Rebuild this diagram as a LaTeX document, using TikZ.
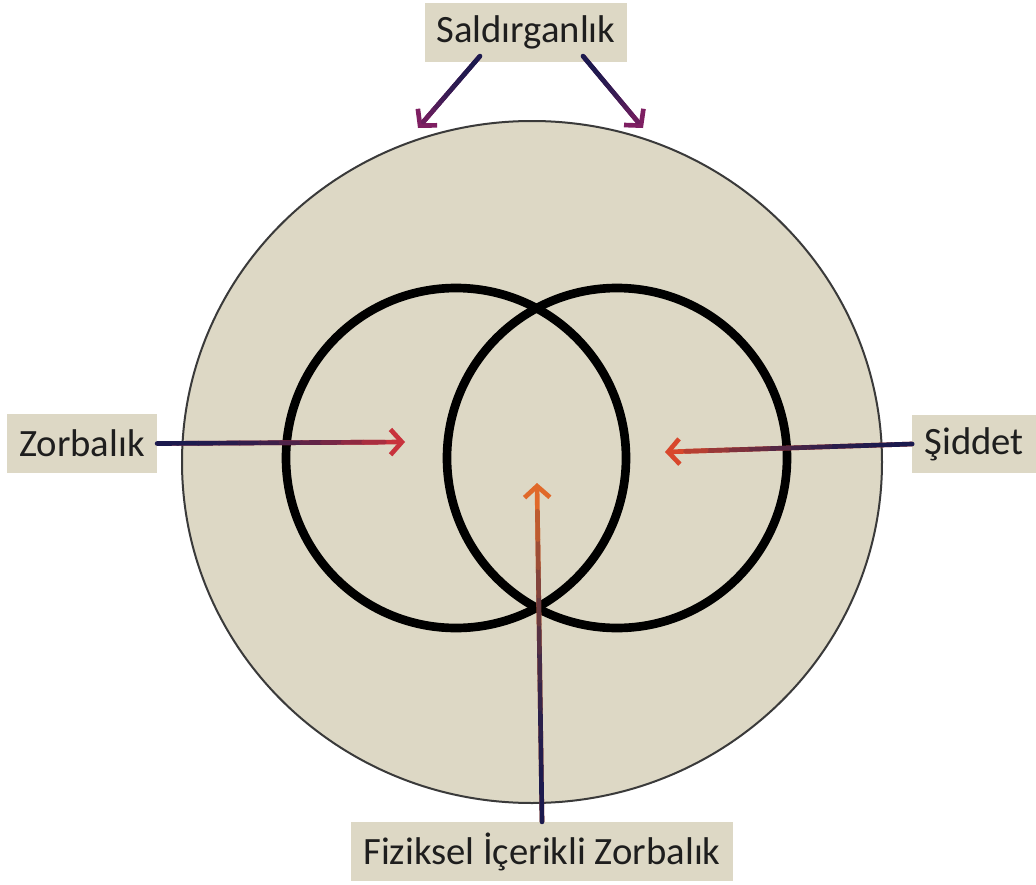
\documentclass[tikz,border=0pt]{standalone}
\usepackage{fontspec}
\setmainfont{Carlito}
\usepackage{xcolor}
\usetikzlibrary{arrows.meta, calc}

\definecolor{boxtan}{HTML}{DDD8C5}
\definecolor{rimgrey}{HTML}{3A3A3A}
\definecolor{textdark}{HTML}{1E1E1E}
\definecolor{navy}{HTML}{1C1A4E}
\definecolor{plum}{HTML}{7E1F62}
\definecolor{brick}{HTML}{C8323C}
\definecolor{ember}{HTML}{D8472C}
\definecolor{amber}{HTML}{E0692A}

% gradient connector: from, to, start colour, end colour
\newcommand{\gradarrow}[4]{%
  \draw[garr, #4] (#1) -- (#2);
  \foreach \k in {1,...,11}{
    \pgfmathtruncatemacro{\mixp}{100*((\k-1)/11)^2}
    \draw[gseg, #4!\mixp!#3]
      ($(#1)!{(\k-1)/12}!(#2)$) -- ($(#1)!{\k/12}!(#2)$);
  }
}

\begin{document}
\begin{tikzpicture}[x=0.75pt, y=-0.75pt,
    % --- node styles ---
    tag/.style={rectangle, fill=boxtan, text=textdark,
        font=\fontsize{29}{33}\selectfont, inner xsep=9pt,
        minimum height=44pt},
    ring/.style={draw=black, line width=6.5pt},
    % --- arrow styles ---
    garr/.style={-{Straight Barb[length=8.5pt,width=19pt]}, line width=3.5pt},
    gseg/.style={line width=3.5pt, line cap=round}
]

\fill[white] (0,0) rectangle (1036,885);
\useasboundingbox (0,0) rectangle (1036,885);

%%% ================= CIRCLES =================
\draw[fill=boxtan, draw=rimgrey, line width=1.5pt]
    (532,462) ellipse [x radius=350, y radius=341];
\draw[ring] (456,458) circle (170);
\draw[ring] (617,458) circle (170);

%%% ================= LABELS =================
\node (sal) [tag] at (526,32.5) {Saldırganlık};
\node (zor) [tag, anchor=west] at (7,443.5) {Zorbalık};
\node (sid) [tag, anchor=east] at (1036,444) {Şiddet};
\node (fiz) [tag] at (542,851.5) {Fiziksel İçerikli Zorbalık};

%%% ================= TARGETS =================
\coordinate (salL) at ($(sal.south)+(-46,-6)$);
\coordinate (salR) at ($(sal.south)+(57,-6)$);
\coordinate (tipSL) at (418,128);
\coordinate (tipSR) at (643,128);
\coordinate (tipZ) at (405,442);
\coordinate (tipS) at (665,452);
\coordinate (tipF) at (537,483);

%%% ================= ARROWS =================
\gradarrow{salL}{tipSL}{navy}{plum}
\gradarrow{salR}{tipSR}{navy}{plum}
\gradarrow{zor.east}{tipZ}{navy}{brick}
\gradarrow{sid.west}{tipS}{navy}{ember}
\gradarrow{fiz.north}{tipF}{navy}{amber}

\end{tikzpicture}
\end{document}
